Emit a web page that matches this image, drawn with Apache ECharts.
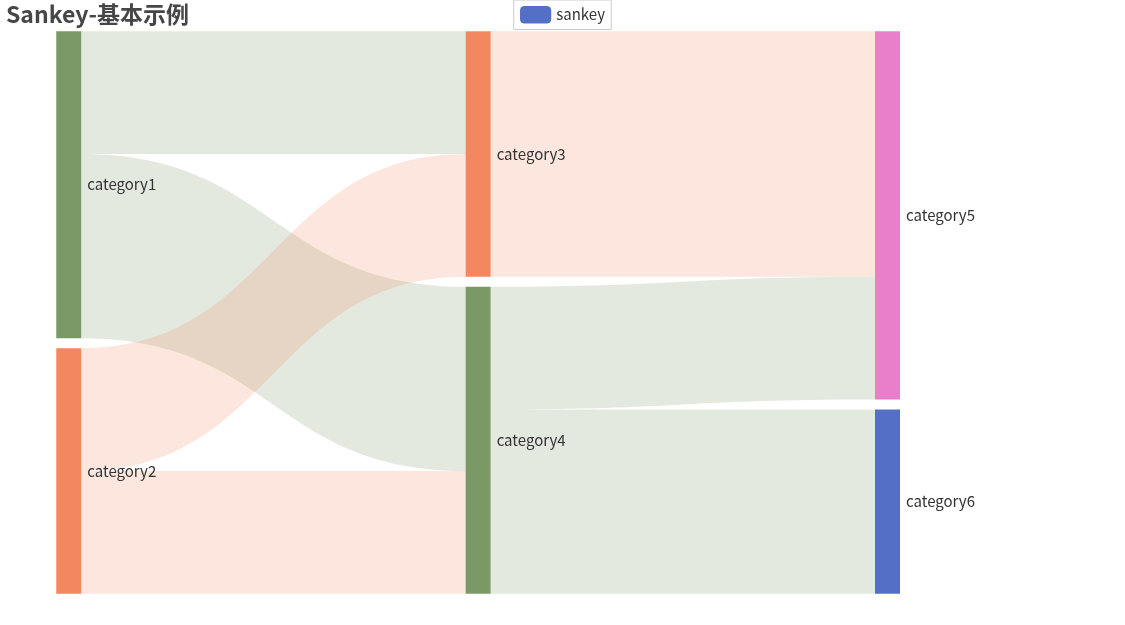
<!DOCTYPE html>
<html><head><meta charset="utf-8">
<script src="https://cdn.jsdelivr.net/npm/echarts@6/dist/echarts.min.js"></script>
<style>html,body{margin:0;padding:0;background:#fff}#c{width:1125px;height:625px}</style>
</head><body><div id="c"></div>
<script>
const nodeNames = ['category1','category2','category3','category4','category5','category6'];
const nodeColors = ['#7b9967','#f3875f','#f3875f','#7b9967','#e97ecb','#5470c6'];
const linkSources = ['category1','category1','category2','category2','category3','category4','category4'];
const linkTargets = ['category3','category4','category3','category4','category5','category5','category6'];
const linkValues = [10,15,10,10,20,10,15];

const chart = echarts.init(document.getElementById('c'), null, {renderer:'canvas'});
const font = '"Noto Sans CJK SC","Microsoft YaHei",sans-serif';
chart.setOption({
  animation:false,
  color:['#5470c6'],
  title:{text:'Sankey-基本示例', left:0, top:0, padding:[3,6],
    textStyle:{fontSize:23, fontWeight:'bold', color:'#464646', fontFamily:font}},
  legend:{show:true, top:0, left:'center', padding:[6,6.25], borderColor:'#ccc', borderWidth:1,
    itemWidth:31.25, itemHeight:17.5, itemGap:12.5,
    textStyle:{fontSize:15, color:'#333', fontFamily:font}, data:['sankey']},
  series:[{
    type:'sankey', name:'sankey',
    left:'5%', right:'20%', top:'5%', bottom:'5%',
    nodeWidth:25, nodeGap:10,
    data: nodeNames.map((n,i)=>({name:n, itemStyle:{color:nodeColors[i]}})),
    links: linkValues.map((v,i)=>({source:linkSources[i], target:linkTargets[i], value:v})),
    lineStyle:{color:'source', opacity:0.21, curveness:0.5},
    label:{position:'right', distance:6, fontSize:15, color:'#333', fontFamily:font}
  }]
});
</script></body></html>
